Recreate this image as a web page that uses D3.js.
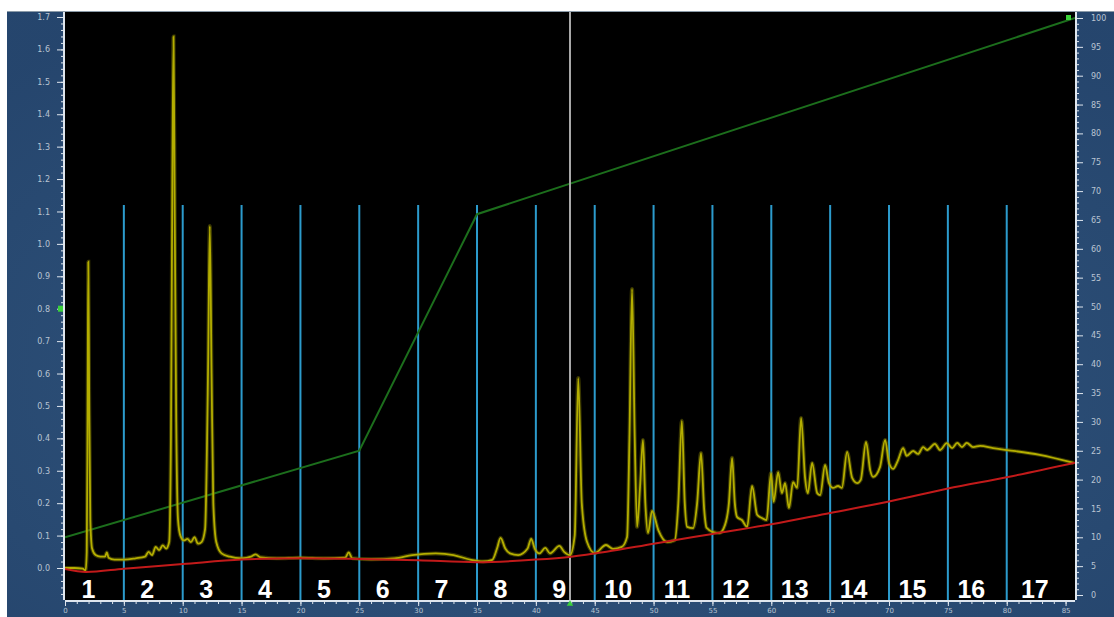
<!DOCTYPE html>
<html>
<head>
<meta charset="utf-8">
<script src="https://cdn.jsdelivr.net/npm/d3@7"></script>
<style>
  html, body { margin: 0; padding: 0; background: #fff; }
  svg { display: block; }
  .tick text { font-family: "DejaVu Sans", sans-serif; }
</style>
</head>
<body>
<svg width="1114" height="617"></svg>
<script>
// chromatogram data
// UV trace: time (min), absorbance
var uvTime = [0, 0.8, 1.5, 1.75, 1.85, 1.92, 1.98, 2.05, 2.15, 2.3, 2.6, 3.0, 3.4, 3.55, 3.7, 4.2, 5.0, 6.0, 6.8, 7.1, 7.4, 7.7, 8.0, 8.3, 8.6, 8.85,
  9.0, 9.12, 9.22, 9.32, 9.45, 9.6, 9.8, 10.1, 10.4, 10.7, 11.0, 11.3, 11.6, 11.9, 12.15, 12.3, 12.45, 12.6, 12.85, 13.3, 14.0, 15.0,
  15.8, 16.2, 16.6, 18, 20, 22, 23.8, 24.1, 24.4, 26, 28, 29.5, 31.5, 33, 34.5, 35.5, 36.3, 36.7, 37.0, 37.4, 37.8, 38.5, 39.3, 39.6,
  39.9, 40.3, 40.8, 41.2, 42.0, 42.4, 42.9, 43.3, 43.6, 43.9, 44.35, 45.0, 45.96, 46.56, 47.3, 47.75, 47.95, 48.17, 48.4, 48.6, 48.85,
  49.1, 49.3, 49.53, 49.87, 50.4, 51.15, 51.8, 52.1, 52.4, 52.65, 52.85, 53.36, 53.7, 54.03, 54.3, 54.5, 55.06, 55.6, 56.07, 56.4,
  56.67, 56.9, 57.1, 57.5, 57.95, 58.37, 58.8, 59.2, 59.6, 59.98, 60.2, 60.58, 60.9, 61.17, 61.5, 61.85, 62.2, 62.53, 62.87, 63.1,
  63.47, 63.9, 64.15, 64.57, 64.9, 65.25, 65.67, 66.0, 66.44, 66.87, 67.3, 67.6, 68.05, 68.4, 68.65, 69.24, 69.67, 70.0, 70.35, 70.77,
  71.2, 71.5, 72.05, 72.47, 72.9, 73.24, 73.9, 74.34, 74.9, 75.36, 75.8, 76.2, 76.6, 77.15, 77.74, 78.84, 80.03, 82.8, 85.7];
var uvAbs = [0, 0, -0.002, -0.008, 0.05, 0.5, 0.945, 0.55, 0.15, 0.06, 0.04, 0.035, 0.035, 0.048, 0.032, 0.026, 0.026, 0.03, 0.035, 0.05, 0.04, 0.065, 0.055, 0.07, 0.06, 0.08,
  0.4, 1.2, 1.64, 1.1, 0.45, 0.15, 0.1, 0.085, 0.09, 0.08, 0.095, 0.075, 0.08, 0.12, 0.6, 1.055, 0.6, 0.2, 0.08, 0.045, 0.035, 0.03,
  0.035, 0.042, 0.033, 0.03, 0.032, 0.03, 0.032, 0.048, 0.03, 0.027, 0.03, 0.04, 0.045, 0.04, 0.025, 0.02, 0.025, 0.06, 0.093, 0.06, 0.045, 0.04, 0.06, 0.09,
  0.06, 0.045, 0.062, 0.045, 0.068, 0.05, 0.04, 0.1, 0.586, 0.2, 0.08, 0.046, 0.071, 0.059, 0.065, 0.096, 0.4, 0.861, 0.4, 0.127, 0.25,
  0.395, 0.2, 0.108, 0.176, 0.117, 0.08, 0.086, 0.2, 0.454, 0.2, 0.127, 0.123, 0.2, 0.355, 0.18, 0.124, 0.111, 0.108, 0.133, 0.2,
  0.34, 0.2, 0.157, 0.148, 0.127, 0.253, 0.164, 0.154, 0.148, 0.293, 0.204, 0.296, 0.231, 0.262, 0.185, 0.265, 0.247, 0.463, 0.278, 0.231,
  0.324, 0.231, 0.225, 0.318, 0.262, 0.247, 0.253, 0.247, 0.358, 0.278, 0.262, 0.272, 0.389, 0.302, 0.281, 0.312, 0.395, 0.324, 0.306, 0.333,
  0.37, 0.346, 0.361, 0.352, 0.373, 0.364, 0.383, 0.364, 0.385, 0.37, 0.386, 0.373, 0.386, 0.373, 0.377, 0.37, 0.364, 0.349, 0.324];

// baseline (red), absorbance units
var baseTime = [0, 1.8, 5, 10, 15, 20, 25, 30, 35, 40, 43, 46, 50, 55, 60, 65, 70, 75, 80, 85.8];
var baseAbs = [-0.003, -0.012, -0.002, 0.012, 0.026, 0.03, 0.028, 0.024, 0.018, 0.026, 0.035, 0.05, 0.075, 0.105, 0.135, 0.17, 0.205, 0.245, 0.28, 0.325];

// gradient (% B), right axis
var gradTime = [0, 25, 35, 85.8];
var gradPct = [10, 25, 66, 100];

// fraction marks every 5 min, labels 1..17
var fracTime = [5, 10, 15, 20, 25, 30, 35, 40, 45, 50, 55, 60, 65, 70, 75, 80];
var fracLabels = ["1", "2", "3", "4", "5", "6", "7", "8", "9", "10", "11", "12", "13", "14", "15", "16", "17"];
var markerTime = 42.9;

var leftTicks = [0.0, 0.1, 0.2, 0.3, 0.4, 0.5, 0.6, 0.7, 0.8, 0.9, 1.0, 1.1, 1.2, 1.3, 1.4, 1.5, 1.6, 1.7];
var rightTicks = [0, 5, 10, 15, 20, 25, 30, 35, 40, 45, 50, 55, 60, 65, 70, 75, 80, 85, 90, 95, 100];
var timeTicks = [0, 5, 10, 15, 20, 25, 30, 35, 40, 45, 50, 55, 60, 65, 70, 75, 80, 85];

var svg = d3.select("svg"),
    width = +svg.attr("width"),
    height = +svg.attr("height");

var plot = {left: 65, right: 1075, top: 12, bottom: 600};

var x = d3.scaleLinear().domain([0, 85.8]).range([plot.left, plot.right]);
var yL = d3.scaleLinear().domain([0, 1.7]).range([568, 17]);
var yR = d3.scaleLinear().domain([0, 100]).range([595, 18]);

// blue panel + black plot
svg.append("rect").attr("x", 7).attr("y", 11).attr("width", width - 7).attr("height", height - 11).attr("fill", "#2c4f78");
var grad = svg.append("defs").append("radialGradient").attr("id", "mottle").attr("cx", "50%").attr("cy", "60%").attr("r", "70%");
grad.append("stop").attr("offset", "0%").attr("stop-color", "#365c84").attr("stop-opacity", 0.6);
grad.append("stop").attr("offset", "100%").attr("stop-color", "#213f66").attr("stop-opacity", 0.6);
svg.append("rect").attr("x", 7).attr("y", 11).attr("width", width - 7).attr("height", height - 11).attr("fill", "url(#mottle)");
svg.append("line").attr("x1", 7).attr("x2", width).attr("y1", 11.5).attr("y2", 11.5).attr("stroke", "#8a9aa8").attr("stroke-width", 1);

svg.append("rect")
    .attr("x", plot.left).attr("y", plot.top)
    .attr("width", plot.right - plot.left).attr("height", plot.bottom - plot.top)
    .attr("fill", "#000");

svg.append("clipPath").attr("id", "clip").append("rect")
    .attr("x", plot.left).attr("y", plot.top)
    .attr("width", plot.right - plot.left).attr("height", plot.bottom - plot.top);

// axes
function styleAxis(g) {
  g.select(".domain").attr("stroke", "#dfe6ee").attr("stroke-width", 2);
  g.selectAll(".tick line").attr("stroke", "#dfe6ee");
  g.selectAll(".tick text").attr("fill", "#b9c4d2").attr("font-size", 8);
}

// minor ticks
svg.append("g")
    .attr("transform", "translate(" + (plot.left - 1) + ",0)")
    .call(d3.axisLeft(yL).tickValues(d3.range(-0.08, 1.71, 0.02)).tickSize(3).tickFormat("").tickSizeOuter(0))
    .call(styleAxis)
    .call(g => g.select(".domain").remove());
svg.append("g")
    .attr("transform", "translate(" + (plot.left - 1) + ",0)")
    .call(d3.axisLeft(yL).tickValues(leftTicks).tickSize(7).tickPadding(7).tickFormat(d3.format(".1f")).tickSizeOuter(0))
    .call(styleAxis)
    .call(g => g.select(".domain").attr("d", "M0," + plot.top + "V" + plot.bottom));

svg.append("g")
    .attr("transform", "translate(" + (plot.right + 1) + ",0)")
    .call(d3.axisRight(yR).tickValues(d3.range(0, 101, 1)).tickSize(3).tickFormat("").tickSizeOuter(0))
    .call(styleAxis)
    .call(g => g.select(".domain").remove());
svg.append("g")
    .attr("transform", "translate(" + (plot.right + 1) + ",0)")
    .call(d3.axisRight(yR).tickValues(rightTicks).tickSize(7).tickPadding(8).tickSizeOuter(0))
    .call(styleAxis)
    .call(g => g.select(".domain").attr("d", "M0," + plot.top + "V" + plot.bottom));

svg.append("g")
    .attr("transform", "translate(0," + (plot.bottom + 1) + ")")
    .call(d3.axisBottom(x).tickValues(d3.range(0, 86, 1)).tickSize(3).tickFormat("").tickSizeOuter(0))
    .call(styleAxis)
    .call(g => g.select(".domain").remove());
svg.append("g")
    .attr("transform", "translate(0," + (plot.bottom + 1) + ")")
    .call(d3.axisBottom(x).tickValues(timeTicks).tickSize(5).tickPadding(2).tickSizeOuter(0))
    .call(styleAxis)
    .call(g => g.selectAll(".tick text").attr("font-size", 7))
    .call(g => g.select(".domain").attr("d", "M" + plot.left + ",0H" + plot.right));

var layer = svg.append("g").attr("clip-path", "url(#clip)");

// fraction marks
layer.selectAll(".frac")
    .data(fracTime)
    .enter().append("line")
    .attr("class", "frac")
    .attr("x1", d => x(d)).attr("x2", d => x(d))
    .attr("y1", yL(1.12)).attr("y2", plot.bottom)
    .attr("stroke", "#2c9bcc").attr("stroke-width", 2);

// gradient line
var gradLine = d3.line().x(d => x(d[0])).y(d => yR(d[1]));
layer.append("path")
    .attr("d", gradLine(d3.zip(gradTime, gradPct)))
    .attr("fill", "none").attr("stroke", "#1c6e1c").attr("stroke-width", 2);

// marker line
layer.append("line")
    .attr("x1", x(markerTime)).attr("x2", x(markerTime))
    .attr("y1", plot.top).attr("y2", plot.bottom)
    .attr("stroke", "#a8a8a8").attr("stroke-width", 2);

// UV trace
var uvLine = d3.line().x(d => x(d[0])).y(d => yL(d[1])).curve(d3.curveMonotoneX);
var uvData = d3.zip(uvTime, uvAbs);
layer.append("path")
    .attr("d", uvLine(uvData))
    .attr("fill", "none").attr("stroke", "#7e7a00").attr("stroke-opacity", 0.45).attr("stroke-width", 4);
layer.append("path")
    .attr("d", uvLine(uvData))
    .attr("fill", "none").attr("stroke", "#b4ae00").attr("stroke-width", 1.8);

// baseline
var baseLine = d3.line().x(d => x(d[0])).y(d => yL(d[1])).curve(d3.curveMonotoneX);
layer.append("path")
    .attr("d", baseLine(d3.zip(baseTime, baseAbs)))
    .attr("fill", "none").attr("stroke", "#c21a1a").attr("stroke-width", 2);

// fraction numbers, centred in each fraction
var edges = [0].concat(fracTime, [85.8]);
svg.selectAll(".fracLabel")
    .data(fracLabels)
    .enter().append("text")
    .attr("class", "fracLabel")
    .attr("x", (d, i) => x((edges[i] + edges[i + 1]) / 2) - 6)
    .attr("y", 598)
    .attr("text-anchor", "middle")
    .attr("font-family", "Liberation Sans, Arial, sans-serif")
    .attr("font-weight", "bold")
    .attr("font-size", 25)
    .attr("fill", "#fff")
    .text(d => d);

// little green markers
svg.append("rect").attr("x", 58).attr("y", yL(0.8) - 3).attr("width", 5).attr("height", 6).attr("fill", "#3ad13a");
svg.append("path").attr("d", d3.symbol(d3.symbolTriangle, 18)()).attr("transform", "translate(" + x(markerTime) + "," + (plot.bottom + 4) + ")").attr("fill", "#3ad13a");
svg.append("rect").attr("x", 1066).attr("y", 15).attr("width", 5).attr("height", 5).attr("fill", "#3ad13a");
</script>
</body>
</html>
